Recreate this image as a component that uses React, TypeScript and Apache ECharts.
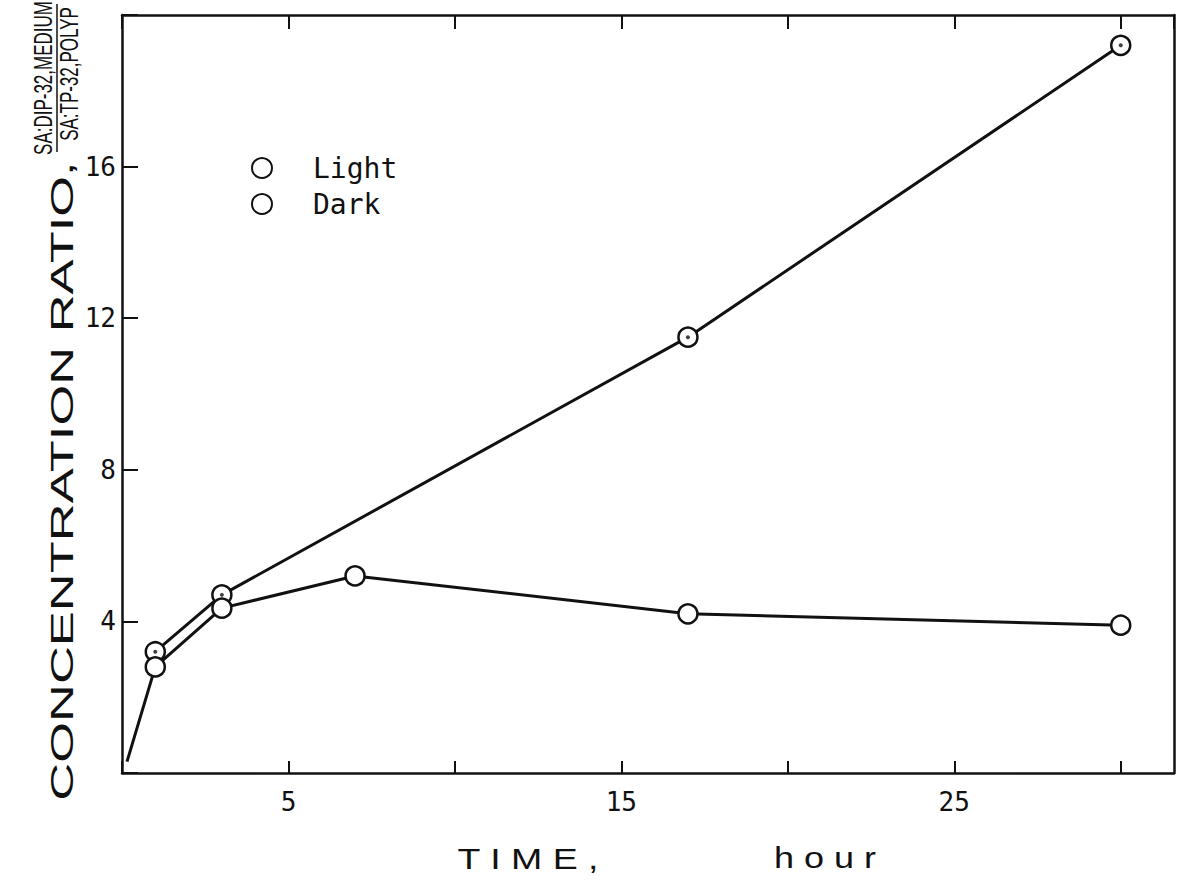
import React, { useEffect, useRef } from "react";
import * as echarts from "echarts";

const LIGHT_X = [1, 3, 17, 30];
const LIGHT_Y = [3.2, 4.7, 11.5, 19.2];
const DARK_X = [0.15, 1, 3, 7, 17, 30];
const DARK_Y = [0.3, 2.8, 4.35, 5.2, 4.2, 3.9];
const DARK_MARKED = [false, true, true, true, true, true];
const X_LABELS = [5, 15, 25];
const Y_LABELS = [4, 8, 12, 16];
const SERIES_NAMES = ["Light", "Dark"];
const X_TITLE = ["T I M E ,", "h o u r"];
const Y_TITLE = "CONCENTRATION RATIO,";
const Y_NUM = "SA:DIP-32,MEDIUM";
const Y_DEN = "SA:TP-32,POLYP";

const INK = "#111";
const MONO = "'DejaVu Sans Mono', monospace";
const SANS = "'Liberation Sans', Arial, sans-serif";

export default function App() {
  const ref = useRef<HTMLDivElement>(null);
  useEffect(() => {
    if (!ref.current) return;
    const chart = echarts.init(ref.current, null, { renderer: "svg" });
    const sym = {
      symbol: "circle",
      symbolSize: 19,
      itemStyle: { color: "#fff", borderColor: INK, borderWidth: 2.5 },
      lineStyle: { color: INK, width: 3 },
    };
    const lightData = LIGHT_X.map((x, i) => [x, LIGHT_Y[i]]);
    const darkData = DARK_X.map((x, i) =>
      DARK_MARKED[i] ? [x, DARK_Y[i]] : { value: [x, DARK_Y[i]], symbol: "none" }
    );
    const axisLine = { show: true, onZero: false, lineStyle: { color: INK, width: 2.5 } };
    chart.setOption({
      animation: false,
      backgroundColor: "#fff",
      grid: { left: 122, right: 8, top: 15, bottom: 115, show: false },
      legend: {
        orient: "vertical",
        left: 246,
        top: 149,
        itemWidth: 20,
        itemHeight: 20,
        itemGap: 8,
        icon: "circle",
        data: SERIES_NAMES,
        textStyle: { fontFamily: MONO, fontSize: 28, color: INK, padding: [0, 0, 0, 36] },
      },
      xAxis: [
        {
          type: "value",
          min: 0,
          max: 31.6,
          interval: 5,
          position: "bottom",
          axisLine,
          axisTick: { show: true, inside: true, length: 12, lineStyle: { color: INK, width: 2 } },
          axisLabel: {
            formatter: (v: number) => (X_LABELS.includes(v) ? String(v) : ""),
            fontFamily: MONO,
            fontSize: 26,
            color: INK,
            margin: 16,
            showMaxLabel: false,
          },
          splitLine: { show: false },
        },
        {
          type: "value",
          min: 0,
          max: 31.6,
          interval: 5,
          position: "top",
          axisLine,
          axisTick: { show: true, inside: true, length: 14, lineStyle: { color: INK, width: 2 } },
          axisLabel: { show: false },
          splitLine: { show: false },
        },
      ],
      yAxis: [
        {
          type: "value",
          min: 0,
          max: 20,
          interval: 4,
          position: "left",
          axisLine,
          axisTick: { show: true, inside: true, length: 16, lineStyle: { color: INK, width: 2 } },
          axisLabel: {
            formatter: (v: number) => (Y_LABELS.includes(v) ? String(v) : ""),
            fontFamily: MONO,
            fontSize: 26,
            color: INK,
            margin: 6,
          },
          splitLine: { show: false },
        },
        {
          type: "value",
          min: 0,
          max: 20,
          interval: 4,
          position: "right",
          axisLine,
          axisTick: { show: false },
          axisLabel: { show: false },
          splitLine: { show: false },
        },
      ],
      series: [
        { name: SERIES_NAMES[0], type: "line", data: lightData, z: 3, ...sym },
        {
          name: "Light-centre",
          type: "scatter",
          data: lightData,
          symbol: "circle",
          symbolSize: 4,
          itemStyle: { color: INK },
          z: 6,
          silent: true,
        },
        { name: SERIES_NAMES[1], type: "line", data: darkData, z: 4, ...sym },
      ],
      graphic: [
        {
          type: "text",
          x: 62,
          y: 481,
          rotation: Math.PI / 2,
          scaleX: 1.64,
          style: {
            text: Y_TITLE,
            font: `32px ${SANS}`,
            fill: INK,
            align: "center",
            verticalAlign: "middle",
          },
        },
        {
          type: "text",
          x: 44,
          y: 78,
          rotation: Math.PI / 2,
          scaleX: 0.68,
          style: {
            text: Y_NUM,
            font: `25px ${SANS}`,
            fill: INK,
            align: "center",
            verticalAlign: "middle",
          },
        },
        {
          type: "line",
          shape: { x1: 57, y1: 4, x2: 57, y2: 152 },
          style: { stroke: INK, lineWidth: 1.5 },
        },
        {
          type: "text",
          x: 70,
          y: 74,
          rotation: Math.PI / 2,
          scaleX: 0.68,
          style: {
            text: Y_DEN,
            font: `25px ${SANS}`,
            fill: INK,
            align: "center",
            verticalAlign: "middle",
          },
        },
        {
          type: "text",
          x: 528,
          y: 858,
          scaleX: 1.25,
          style: {
            text: X_TITLE[0],
            font: `30px ${SANS}`,
            fill: INK,
            align: "center",
            verticalAlign: "middle",
          },
        },
        {
          type: "text",
          x: 825,
          y: 858,
          scaleX: 1.2,
          style: {
            text: X_TITLE[1],
            font: `30px ${SANS}`,
            fill: INK,
            align: "center",
            verticalAlign: "middle",
          },
        },
      ],
    });
    return () => chart.dispose();
  }, []);
  return (
    <div
      ref={ref}
      style={{ position: "fixed", left: 0, top: 0, width: 1182, height: 888, background: "#fff" }}
    />
  );
}
